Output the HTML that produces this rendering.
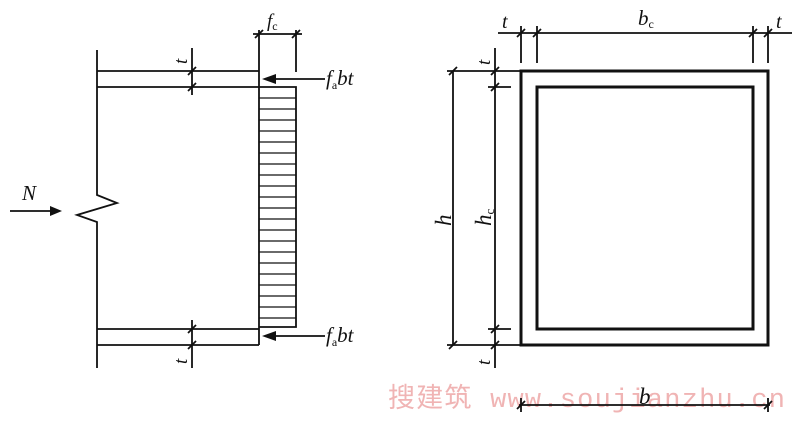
<!DOCTYPE html>
<html><head><meta charset="utf-8"><style>
html,body{margin:0;padding:0;background:#fff;width:800px;height:424px;overflow:hidden}
svg text{font-family:"Liberation Serif",serif;font-style:italic;fill:#111}
svg text.wm{font-family:"Liberation Mono","Noto Sans CJK SC",monospace;font-style:normal;fill:#f0b4b4}
</style></head><body>
<svg width="800" height="424" viewBox="0 0 800 424" xmlns="http://www.w3.org/2000/svg">
<text class="wm" x="388" y="407" font-size="27" textLength="397" lengthAdjust="spacing">搜建筑 www.soujianzhu.cn</text>
<g stroke="#111" fill="none" stroke-width="1.8">
<path d="M97,50 V195 L117,203 L77,215 L97,222 V368"/>
<line x1="97" y1="71" x2="259" y2="71"/>
<line x1="97" y1="87" x2="259" y2="87"/>
<line x1="97" y1="329" x2="259" y2="329"/>
<line x1="97" y1="345" x2="259" y2="345"/>
<line x1="259" y1="30" x2="259" y2="345"/>
<polyline points="259,87 296,87 296,327 259,327"/>
<line x1="296" y1="30" x2="296" y2="72"/>
<line x1="253" y1="34" x2="302" y2="34"/>
<line x1="255" y1="38" x2="263" y2="30"/>
<line x1="292" y1="38" x2="300" y2="30"/>
<g stroke-width="1.3">
<line x1="259" y1="98" x2="296" y2="98"/><line x1="259" y1="109" x2="296" y2="109"/>
<line x1="259" y1="120" x2="296" y2="120"/><line x1="259" y1="131" x2="296" y2="131"/>
<line x1="259" y1="142" x2="296" y2="142"/><line x1="259" y1="153" x2="296" y2="153"/>
<line x1="259" y1="164" x2="296" y2="164"/><line x1="259" y1="175" x2="296" y2="175"/>
<line x1="259" y1="186" x2="296" y2="186"/><line x1="259" y1="197" x2="296" y2="197"/>
<line x1="259" y1="208" x2="296" y2="208"/><line x1="259" y1="219" x2="296" y2="219"/>
<line x1="259" y1="230" x2="296" y2="230"/><line x1="259" y1="241" x2="296" y2="241"/>
<line x1="259" y1="252" x2="296" y2="252"/><line x1="259" y1="263" x2="296" y2="263"/>
<line x1="259" y1="274" x2="296" y2="274"/><line x1="259" y1="285" x2="296" y2="285"/>
<line x1="259" y1="296" x2="296" y2="296"/><line x1="259" y1="307" x2="296" y2="307"/>
<line x1="259" y1="318" x2="296" y2="318"/>
</g>
<line x1="192" y1="48" x2="192" y2="95"/>
<line x1="188" y1="75" x2="196" y2="67"/><line x1="188" y1="91" x2="196" y2="83"/>
<line x1="192" y1="320" x2="192" y2="368"/>
<line x1="188" y1="333" x2="196" y2="325"/><line x1="188" y1="349" x2="196" y2="341"/>
<line x1="10" y1="211" x2="55" y2="211"/>
<line x1="325" y1="79" x2="270" y2="79"/>
<line x1="325" y1="336" x2="270" y2="336"/>
<rect x="521" y="71" width="247" height="274" stroke-width="3"/>
<rect x="537" y="87" width="216" height="242" stroke-width="3"/>
<line x1="498" y1="33" x2="792" y2="33"/>
<line x1="521" y1="26" x2="521" y2="63"/><line x1="537" y1="26" x2="537" y2="63"/>
<line x1="753" y1="26" x2="753" y2="63"/><line x1="768" y1="26" x2="768" y2="63"/>
<line x1="517" y1="37" x2="525" y2="29"/><line x1="533" y1="37" x2="541" y2="29"/>
<line x1="749" y1="37" x2="757" y2="29"/><line x1="764" y1="37" x2="772" y2="29"/>
<line x1="453" y1="71" x2="453" y2="345"/>
<line x1="447" y1="71" x2="521" y2="71"/><line x1="447" y1="345" x2="521" y2="345"/>
<line x1="449" y1="75" x2="457" y2="67"/><line x1="449" y1="349" x2="457" y2="341"/>
<line x1="495" y1="48" x2="495" y2="368"/>
<line x1="488" y1="87" x2="511" y2="87"/><line x1="488" y1="329" x2="511" y2="329"/>
<line x1="491" y1="75" x2="499" y2="67"/><line x1="491" y1="91" x2="499" y2="83"/>
<line x1="491" y1="333" x2="499" y2="325"/><line x1="491" y1="349" x2="499" y2="341"/>
<line x1="519" y1="405" x2="770" y2="405"/>
<line x1="521" y1="398" x2="521" y2="412"/><line x1="768" y1="398" x2="768" y2="412"/>
<line x1="517" y1="409" x2="525" y2="401"/><line x1="764" y1="409" x2="772" y2="401"/>
</g>
<g fill="#111">
<polygon points="62,211 50,206 50,216"/>
<polygon points="262,79 276,74 276,84"/>
<polygon points="262,336 276,331 276,341"/>
</g>
<text x="22" y="200" font-size="21">N</text>
<text x="267" y="27" font-size="19">f<tspan font-size="12" font-style="normal" dy="3">c</tspan></text>
<text x="326" y="85" font-size="21">f<tspan font-size="12" font-style="normal" dy="4">a</tspan><tspan dy="-4">bt</tspan></text>
<text x="326" y="342" font-size="21">f<tspan font-size="12" font-style="normal" dy="4">a</tspan><tspan dy="-4">bt</tspan></text>
<text x="0" y="0" font-size="19" transform="translate(187,64) rotate(-90)">t</text>
<text x="0" y="0" font-size="19" transform="translate(187,364) rotate(-90)">t</text>
<text x="502" y="28" font-size="20">t</text>
<text x="638" y="25" font-size="21">b<tspan font-size="12" font-style="normal" dy="3">c</tspan></text>
<text x="776" y="28" font-size="20">t</text>
<text x="0" y="0" font-size="19" transform="translate(490,65) rotate(-90)">t</text>
<text x="0" y="0" font-size="19" transform="translate(490,365) rotate(-90)">t</text>
<text x="0" y="0" font-size="23" transform="translate(451,226) rotate(-90)">h</text>
<text x="0" y="0" font-size="23" transform="translate(491,226) rotate(-90)">h<tspan font-size="13" font-style="normal" dy="3">c</tspan></text>
<text x="639" y="404" font-size="23">b</text>
</svg>
</body></html>
